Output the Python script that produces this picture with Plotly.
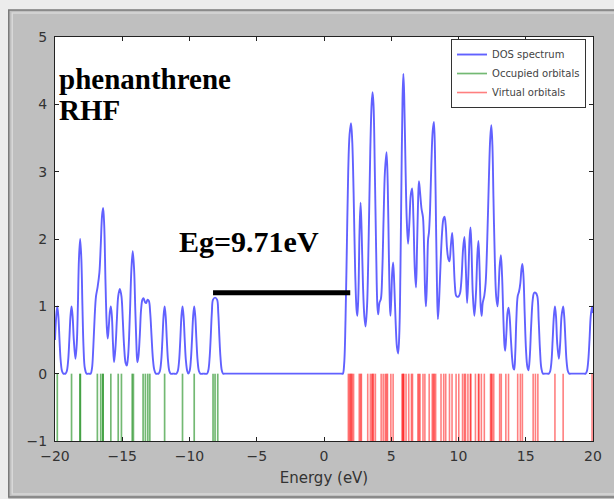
import plotly.graph_objects as go

# ---------------- data ----------------
# occupied orbital energies (eV)
OCCUPIED = [-19.83, -18.77, -18.15, -18.11, -16.85, -16.6, -16.45, -16.42, -15.85,
            -15.3, -15.06, -14.26, -14.17, -13.45, -13.28, -13.1, -12.95, -11.85,
            -10.52, -9.65, -8.25, -8.1, -7.9]
# virtual orbital energies (eV)
VIRTUAL = [1.81, 1.9, 1.97, 2.03, 2.1, 2.2, 2.62, 2.72, 2.78, 3.25, 3.45, 3.56, 3.62,
           3.68, 3.82, 4.25, 4.4, 4.55, 4.65, 4.72, 4.97, 5.14, 5.8, 5.86, 5.9, 5.94,
           6.1, 6.3, 6.5, 6.58, 6.98, 7.06, 7.14, 7.36, 7.5, 7.82, 8.05, 8.14, 8.2,
           8.3, 8.7, 8.9, 9.05, 9.33, 9.52, 9.82, 10.02, 10.3, 10.44, 10.52, 10.7,
           10.88, 10.92, 11.26, 11.48, 11.52, 11.7, 11.92, 12.38, 12.44, 12.5, 12.62,
           13.06, 13.18, 13.52, 13.72, 14.4, 14.6, 14.75, 15.55, 15.72, 15.9, 17.17,
           17.78, 19.93]

# DOS spectrum
DOS_E = [
    -20.0, -19.91, -19.83, -19.75, -19.665, -19.58, -19.48, -19.38, -19.3,
    -19.22, -19.12, -19.02, -18.935, -18.85, -18.77, -18.69, -18.6, -18.48, -18.38, -18.3, -18.22, -18.13, -18.04, -17.96, -17.88, -17.78, -17.65, -17.5,
    -17.35, -17.25, -17.15, -17.05, -16.95, -16.83, -16.7, -16.6, -16.5, -16.42, -16.34, -16.25, -16.15, -16.08, -16.0, -15.92, -15.85, -15.77, -15.69, -15.61,
    -15.5, -15.4, -15.3, -15.18, -15.06, -14.96, -14.86, -14.75, -14.66,
    -14.57, -14.5, -14.42, -14.32, -14.22, -14.12, -14.03, -13.95, -13.88,
    -13.8, -13.7, -13.6, -13.5, -13.42, -13.3, -13.22, -13.12, -13.02, -12.92, -12.82, -12.72, -12.62, -12.5, -12.4,
    -12.3, -12.2, -12.1, -12.015, -11.93, -11.85, -11.77, -11.685, -11.6, -11.5, -11.4, -11.2,
    -10.97, -10.87, -10.77, -10.685, -10.6, -10.52, -10.44, -10.355, -10.27, -10.17, -10.09,
    -9.99, -9.9, -9.815, -9.73, -9.65, -9.57, -9.485, -9.4, -9.3, -9.2, -8.95,
    -8.7, -8.6, -8.5, -8.42, -8.34, -8.25, -8.1, -7.95, -7.86, -7.78, -7.7, -7.6, -7.5,
    -7.4, -7.1, -6.0, -4.5, -3.0, -1.5, 0.0, 0.8, 1.15, 1.3, 1.4,
    1.5, 1.6, 1.7, 1.8, 1.9, 2.01, 2.1, 2.2, 2.32, 2.42, 2.48,
    2.56, 2.64, 2.72, 2.8, 2.9, 3.0, 3.09,
    3.2, 3.32, 3.44, 3.54, 3.61, 3.68, 3.78, 3.88, 3.97, 4.03, 4.12, 4.23,
    4.33, 4.43, 4.53, 4.65, 4.74, 4.82, 4.9, 4.94, 5.0, 5.07, 5.14, 5.22, 5.32, 5.42, 5.51,
    5.6, 5.68, 5.76, 5.84, 5.9, 5.96, 6.05, 6.15, 6.25, 6.35, 6.45, 6.55, 6.65, 6.75, 6.84, 6.92,
    7.0, 7.06, 7.14, 7.25, 7.36, 7.45, 7.52, 7.58, 7.66, 7.74, 7.8, 7.88, 7.98, 8.08, 8.17, 8.25,
    8.33, 8.4, 8.47, 8.56, 8.66, 8.78, 8.88, 8.96, 9.05, 9.15, 9.25, 9.33, 9.43, 9.53, 9.62,
    9.72, 9.82, 9.92, 10.02, 10.12, 10.22, 10.34, 10.44, 10.54, 10.64, 10.74, 10.82, 10.89, 10.96, 11.06,
    11.18, 11.3, 11.4, 11.48, 11.56, 11.65, 11.72, 11.8, 11.92, 12.02, 12.14, 12.26, 12.36, 12.44, 12.52,
    12.6, 12.7, 12.8, 12.9, 12.98, 13.06, 13.15, 13.24, 13.34, 13.42, 13.47, 13.56, 13.64, 13.72, 13.8,
    13.9, 14.0, 14.08, 14.14, 14.22, 14.3, 14.4, 14.5, 14.6, 14.68, 14.75, 14.83, 14.92, 15.02, 15.12,
    15.2, 15.3, 15.4, 15.52, 15.62, 15.74, 15.86, 15.96, 16.06, 16.16, 16.28, 16.4, 16.5, 16.6, 16.72,
    16.82, 16.92, 17.0, 17.09, 17.17, 17.25, 17.34, 17.46, 17.56, 17.66, 17.78, 17.86, 17.95, 18.03, 18.13, 18.23,
    18.35, 18.7, 19.0, 19.2, 19.35,
    19.45, 19.55, 19.65, 19.74, 19.83, 19.93, 20.0,
]
DOS_Y = [
    0.50, 0.85, 1.0, 0.85, 0.5, 0.2, 0.04, 0.0, 0.0,
    0.0, 0.04, 0.2, 0.5, 0.85, 1.0, 0.85, 0.5, 0.22, 0.45, 1.0, 1.7, 2.0, 1.7, 1.0, 0.4, 0.08, 0.0, 0.0,
    0.0, 0.08, 0.4, 0.85, 1.15, 1.29, 1.5, 1.9, 2.35, 2.46, 2.2, 1.4, 0.7, 0.52, 0.7, 0.92, 1.0, 0.85, 0.45, 0.17,
    0.4, 0.8, 1.15, 1.26, 1.15, 0.8, 0.4, 0.16, 0.12,
    0.25, 0.5, 0.95, 1.55, 1.82, 1.55, 0.95, 0.45, 0.17,
    0.25, 0.55, 0.95, 1.1, 1.12, 1.06, 1.05, 1.1, 1.08, 0.9, 0.55, 0.22, 0.06, 0.0, 0.0,
    0.0, 0.04, 0.2, 0.5, 0.85, 1.0, 0.85, 0.5, 0.2, 0.04, 0.0, 0.0,
    0.0, 0.04, 0.2, 0.5, 0.85, 1.0, 0.85, 0.5, 0.2, 0.04, 0.0,
    0.04, 0.2, 0.5, 0.85, 1.0, 0.85, 0.5, 0.2, 0.04, 0.0, 0.0,
    0.0, 0.05, 0.25, 0.55, 0.9, 1.1, 1.13, 1.1, 0.9, 0.55, 0.25, 0.05, 0.0,
    0.0, 0.0, 0.0, 0.0, 0.0, 0.0, 0.0, 0.0, 0.0, 0.0, 0.0,
    0.15, 0.8, 1.9, 3.0, 3.55, 3.72, 3.45, 2.7, 1.5, 0.95, 0.86,
    1.2, 2.1, 2.54, 2.1, 1.3, 0.85, 0.70,
    1.0, 2.0, 3.3, 4.0, 4.18, 4.0, 3.0, 1.8, 1.0, 0.88, 1.05, 1.11,
    1.5, 2.3, 3.0, 3.29, 2.8, 1.8, 1.0, 0.86, 1.1, 1.5, 1.65, 1.35, 0.8, 0.4, 0.30,
    0.6, 1.5, 2.9, 4.1, 4.45, 4.15, 3.2, 2.3, 1.93, 2.25, 2.65, 2.75, 2.3, 1.55, 1.28, 1.9,
    2.6, 2.86, 2.7, 2.45, 2.32, 1.8, 1.2, 1.0, 1.4, 2.0, 2.09, 2.4, 3.1, 3.6, 3.74, 3.3,
    2.2, 1.3, 0.81, 1.1, 1.6, 2.1, 2.3, 2.33, 2.2, 1.85, 1.7, 1.67, 1.9, 2.09, 1.8,
    1.35, 1.16, 1.14, 1.15, 1.2, 1.4, 1.85, 2.03, 1.6, 1.05, 1.5, 2.0, 2.17, 1.9, 1.2,
    0.86, 1.2, 1.75, 1.97, 1.6, 1.0, 0.86, 1.05, 1.16, 1.35, 2.0, 2.9, 3.5, 3.69, 3.4,
    2.6, 1.7, 1.15, 1.0, 1.25, 1.6, 1.76, 1.45, 0.8, 0.42, 0.34, 0.6, 0.9, 0.98, 0.85,
    0.5, 0.2, 0.08, 0.06, 0.3, 0.8, 1.15, 1.22, 1.35, 1.55, 1.63, 1.45, 0.9, 0.35, 0.1,
    0.05, 0.25, 0.7, 1.1, 1.2, 1.2, 1.15, 0.8, 0.35, 0.08, 0.0, 0.0, 0.0, 0.0, 0.0,
    0.04, 0.2, 0.5, 0.85, 1.0, 0.85, 0.45, 0.22, 0.45, 0.85, 1.0, 0.85, 0.5, 0.2, 0.04, 0.0,
    0.0, 0.0, 0.0, 0.0, 0.0,
    0.0, 0.04, 0.2, 0.5, 0.85, 1.0, 0.9,
]
assert len(DOS_E) == len(DOS_Y), (len(DOS_E), len(DOS_Y))

GAP_BAR_X = [-8.25, 1.95]
GAP_BAR_LEVEL = 1.2
X_TICKS = [-20, -15, -10, -5, 0, 5, 10, 15, 20]
Y_TICKS = [-1, 0, 1, 2, 3, 4, 5]
STICK_BOTTOM, STICK_TOP = -1, 0

HOMO = max(OCCUPIED)
LUMO = min(VIRTUAL)
GAP = LUMO - HOMO

# ---------------- figure ----------------
fig = go.Figure()

fig.add_trace(go.Scatter(
    x=DOS_E, y=DOS_Y, mode="lines", name="DOS spectrum",
    line=dict(color="rgba(0,0,255,0.62)", width=1.9, shape="spline", smoothing=1.0),
    hoverinfo="skip"))

for i, e in enumerate(OCCUPIED):
    fig.add_trace(go.Scatter(
        x=[e, e], y=[STICK_BOTTOM, STICK_TOP], mode="lines", name="Occupied orbitals",
        legendgroup="occ", showlegend=(i == 0),
        line=dict(color="rgba(0,128,0,0.55)", width=1.7), hoverinfo="skip"))

for i, e in enumerate(VIRTUAL):
    fig.add_trace(go.Scatter(
        x=[e, e], y=[STICK_BOTTOM, STICK_TOP], mode="lines", name="Virtual orbitals",
        legendgroup="vir", showlegend=(i == 0),
        line=dict(color="rgba(255,0,0,0.5)", width=1.6), hoverinfo="skip"))

fig.add_trace(go.Scatter(
    x=GAP_BAR_X, y=[GAP_BAR_LEVEL, GAP_BAR_LEVEL], mode="lines", showlegend=False,
    line=dict(color="black", width=5), hoverinfo="skip"))

serif = "Liberation Serif, Times New Roman, serif"
fig.add_annotation(x=-19.85, y=4.38, xref="x", yref="y", xanchor="left", yanchor="middle",
                   text="<b>phenanthrene</b>", showarrow=False,
                   font=dict(family=serif, size=29, color="black"))
fig.add_annotation(x=-19.85, y=3.92, xref="x", yref="y", xanchor="left", yanchor="middle",
                   text="<b>RHF</b>", showarrow=False,
                   font=dict(family=serif, size=29, color="black"))
fig.add_annotation(x=-10.9, y=1.96, xref="x", yref="y", xanchor="left", yanchor="middle",
                   text=f"<b>Eg={GAP:.2f}eV</b>", showarrow=False,
                   font=dict(family=serif, size=30, color="black"))

# window frame around the figure
W, H, L, T, B = 541, 404, 55, 37, 58
def px(xp):
    return (xp - L) / W
def py(yp):
    return (499 - B - yp) / H

frame_shapes = [
    dict(type="rect", xref="paper", yref="paper", x0=px(-5), x1=px(625), y0=py(10), y1=py(-5),
         fillcolor="#ececec", line=dict(width=0), layer="below"),
    dict(type="rect", xref="paper", yref="paper", x0=px(-5), x1=px(8), y0=py(510), y1=py(-5),
         fillcolor="#ececec", line=dict(width=0), layer="below"),
    dict(type="rect", xref="paper", yref="paper", x0=px(8.5), x1=px(625), y0=py(497), y1=py(10),
         fillcolor="rgba(0,0,0,0)", line=dict(color="#7a7a7a", width=1.5), layer="below"),
    dict(type="rect", xref="paper", yref="paper", x0=px(12), x1=px(625), y0=py(494), y1=py(13),
         fillcolor="rgba(0,0,0,0)", line=dict(color="#d8d8d8", width=1.5), layer="below"),
]

axis_font = dict(family="DejaVu Sans, sans-serif", size=14, color="#333")
fig.update_layout(
    width=614, height=499,
    margin=dict(l=L, r=614 - L - W, t=T, b=B),
    paper_bgcolor="#bfbfbf", plot_bgcolor="white",
    shapes=frame_shapes,
    showlegend=True,
    legend=dict(x=0.987, y=0.995, xanchor="right", yanchor="top", bgcolor="white",
                bordercolor="#333", borderwidth=1, itemwidth=30, tracegroupgap=0,
                font=dict(family="DejaVu Sans, sans-serif", size=10, color="#444")),
    xaxis=dict(range=[-20, 20], tickvals=X_TICKS, ticks="inside", ticklen=4, tickcolor="#222",
               showline=True, linecolor="#222", linewidth=1, mirror="ticks",
               showgrid=False, zeroline=False, tickfont=axis_font, ticklabelstandoff=2,
               title=dict(text="Energy (eV)", standoff=9,
                          font=dict(family="DejaVu Sans, sans-serif", size=15, color="#333"))),
    yaxis=dict(range=[-1, 5], tickvals=Y_TICKS, ticks="inside", ticklen=4, tickcolor="#222",
               showline=True, linecolor="#222", linewidth=1, mirror="ticks",
               showgrid=False, zeroline=False, tickfont=axis_font, ticklabelstandoff=4),
)

fig.write_html("out.html")
